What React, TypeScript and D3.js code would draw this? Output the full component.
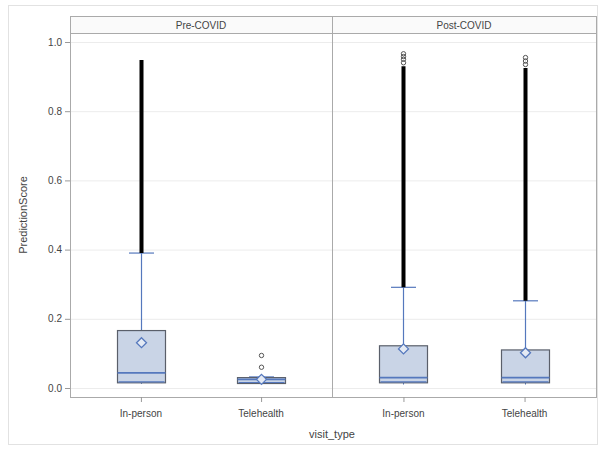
import { useEffect, useRef } from "react";
import * as d3 from "d3";

// panels and categories
const periods = ["Pre-COVID", "Post-COVID"];
const visitTypes = ["In-person", "Telehealth"];
const yTicks = [0.0, 0.2, 0.4, 0.6, 0.8, 1.0];

// box stats, one entry per period x visit type
const boxPeriod = ["Pre-COVID", "Pre-COVID", "Post-COVID", "Post-COVID"];
const boxType = ["In-person", "Telehealth", "In-person", "Telehealth"];
const q1 = [0.015, 0.013, 0.015, 0.015];
const median = [0.044, 0.025, 0.03, 0.03];
const q3 = [0.166, 0.03, 0.122, 0.11];
const mean = [0.131, 0.025, 0.113, 0.102];
const whiskerLow = [0.012, 0.012, 0.01, 0.01];
const whiskerHigh = [0.39, 0.032, 0.291, 0.252];
// dense outlier runs (drawn as a solid band) and the few separate ones
const bandLow = [0.39, null, 0.291, 0.252];
const bandHigh = [0.948, null, 0.93, 0.925];
const sparseOutliers = [
  [],
  [0.06, 0.094],
  [0.94, 0.95, 0.958, 0.966],
  [0.935, 0.945, 0.955],
];

const W = 604;
const H = 449;

const App = () => {
  const svgRef = useRef<SVGSVGElement>(null);

  useEffect(() => {
    const svg = d3.select(svgRef.current);
    svg.selectAll("*").remove();

    const font = "'Liberation Sans', Arial, sans-serif";
    const left = 70;
    const right = 596;
    const headerTop = 16;
    const plotTop = 33;
    const plotBottom = 397;
    const divider = 332;

    svg
      .append("rect")
      .attr("x", 8.5)
      .attr("y", 5.5)
      .attr("width", 589)
      .attr("height", 439)
      .attr("fill", "#fff")
      .attr("stroke", "#e2e2e2");

    const y = d3.scaleLinear().domain([0, 1]).range([388, 42]);

    const panelX = d3
      .scaleOrdinal<string, [number, number]>()
      .domain(periods)
      .range([
        [left, divider],
        [divider, right],
      ]);

    // gridlines
    svg
      .append("g")
      .selectAll("line")
      .data(yTicks)
      .enter()
      .append("line")
      .attr("x1", left)
      .attr("x2", right)
      .attr("y1", (d) => y(d) + 0.5)
      .attr("y2", (d) => y(d) + 0.5)
      .attr("stroke", "#ececec");

    // y axis ticks + labels
    const yAxis = svg.append("g");
    yAxis
      .selectAll("line")
      .data(yTicks)
      .enter()
      .append("line")
      .attr("x1", left - 5)
      .attr("x2", left)
      .attr("y1", (d) => y(d) + 0.5)
      .attr("y2", (d) => y(d) + 0.5)
      .attr("stroke", "#999");
    yAxis
      .selectAll("text")
      .data(yTicks)
      .enter()
      .append("text")
      .attr("x", left - 8)
      .attr("y", (d) => y(d))
      .attr("dy", "0.35em")
      .attr("text-anchor", "end")
      .attr("font-family", font)
      .attr("font-size", 10)
      .attr("fill", "#444")
      .text((d) => d3.format(".1f")(d));

    svg
      .append("text")
      .attr("transform", `translate(27,${(plotTop + plotBottom) / 2}) rotate(-90)`)
      .attr("text-anchor", "middle")
      .attr("font-family", font)
      .attr("font-size", 11)
      .attr("fill", "#444")
      .text("PredictionScore");

    // panels
    periods.forEach((p) => {
      const [x0, x1] = panelX(p);
      svg
        .append("rect")
        .attr("x", x0 + 0.5)
        .attr("y", headerTop + 0.5)
        .attr("width", x1 - x0)
        .attr("height", plotTop - headerTop)
        .attr("fill", "#fafafa")
        .attr("stroke", "#aaa");
      svg
        .append("text")
        .attr("x", (x0 + x1) / 2)
        .attr("y", (headerTop + plotTop) / 2 + 1)
        .attr("dy", "0.35em")
        .attr("text-anchor", "middle")
        .attr("font-family", font)
        .attr("font-size", 10)
        .attr("fill", "#444")
        .text(p);
      svg
        .append("rect")
        .attr("x", x0 + 0.5)
        .attr("y", plotTop + 0.5)
        .attr("width", x1 - x0)
        .attr("height", plotBottom - plotTop)
        .attr("fill", "none")
        .attr("stroke", "#aaa");

      const x = d3.scalePoint().domain(visitTypes).range([x0, x1]).padding(0.59);
      const g = svg.append("g");
      g.selectAll("line")
        .data(visitTypes)
        .enter()
        .append("line")
        .attr("x1", (d) => x(d)! + 0.5)
        .attr("x2", (d) => x(d)! + 0.5)
        .attr("y1", plotBottom)
        .attr("y2", plotBottom + 5)
        .attr("stroke", "#999");
      g.selectAll("text")
        .data(visitTypes)
        .enter()
        .append("text")
        .attr("x", (d) => x(d)!)
        .attr("y", plotBottom + 16)
        .attr("dy", "0.35em")
        .attr("text-anchor", "middle")
        .attr("font-family", font)
        .attr("font-size", 10)
        .attr("fill", "#444")
        .text((d) => d);
    });

    svg
      .append("text")
      .attr("x", divider)
      .attr("y", 434)
      .attr("dy", "0.35em")
      .attr("text-anchor", "middle")
      .attr("font-family", font)
      .attr("font-size", 11)
      .attr("fill", "#444")
      .text("visit_type");

    // boxes
    const bw = 48;
    const capW = 25;
    const blue = "#5578bd";
    boxPeriod.forEach((p, i) => {
      const [x0, x1] = panelX(p);
      const x = d3.scalePoint().domain(visitTypes).range([x0, x1]).padding(0.59);
      const cx = Math.round(x(boxType[i])!) + 0.5;
      const g = svg.append("g");

      // whiskers
      g.append("line")
        .attr("x1", cx)
        .attr("x2", cx)
        .attr("y1", y(q3[i]))
        .attr("y2", y(whiskerHigh[i]))
        .attr("stroke", blue)
        .attr("stroke-width", 1.2);
      g.append("line")
        .attr("x1", cx - capW / 2)
        .attr("x2", cx + capW / 2)
        .attr("y1", y(whiskerHigh[i]))
        .attr("y2", y(whiskerHigh[i]))
        .attr("stroke", blue)
        .attr("stroke-width", 1.2);
      g.append("line")
        .attr("x1", cx)
        .attr("x2", cx)
        .attr("y1", y(q1[i]))
        .attr("y2", y(whiskerLow[i]))
        .attr("stroke", blue);

      // box
      g.append("rect")
        .attr("x", cx - bw / 2)
        .attr("y", y(q3[i]))
        .attr("width", bw)
        .attr("height", y(q1[i]) - y(q3[i]))
        .attr("fill", "#c9d4e6")
        .attr("stroke", "#5a5f6a")
        .attr("stroke-width", 1.2);
      g.append("line")
        .attr("x1", cx - bw / 2)
        .attr("x2", cx + bw / 2)
        .attr("y1", y(median[i]))
        .attr("y2", y(median[i]))
        .attr("stroke", blue)
        .attr("stroke-width", 1.8);
      g.append("line")
        .attr("x1", cx - bw / 2 + 1)
        .attr("x2", cx + bw / 2 - 1)
        .attr("y1", y(q1[i]) - 1)
        .attr("y2", y(q1[i]) - 1)
        .attr("stroke", blue)
        .attr("stroke-width", 1.2);

      // outliers
      if (bandLow[i] != null && bandHigh[i] != null) {
        g.append("line")
          .attr("x1", cx)
          .attr("x2", cx)
          .attr("y1", y(bandLow[i] as number))
          .attr("y2", y(bandHigh[i] as number))
          .attr("stroke", "#000")
          .attr("stroke-width", 4);
      }
      g.selectAll("circle.out")
        .data(sparseOutliers[i])
        .enter()
        .append("circle")
        .attr("class", "out")
        .attr("cx", cx)
        .attr("cy", (d) => y(d))
        .attr("r", 2.2)
        .attr("fill", "none")
        .attr("stroke", "#555")
        .attr("stroke-width", 1);

      // mean diamond
      const s = 5;
      const my = y(mean[i]);
      g.append("path")
        .attr("d", `M${cx},${my - s}L${cx + s},${my}L${cx},${my + s}L${cx - s},${my}Z`)
        .attr("fill", "#e4eaf4")
        .attr("stroke", blue)
        .attr("stroke-width", 1.3);
    });
  }, []);

  return (
    <svg
      ref={svgRef}
      width={W}
      height={H}
      style={{ position: "absolute", left: 0, top: 0, background: "#fff" }}
    ></svg>
  );
};

export default App;
